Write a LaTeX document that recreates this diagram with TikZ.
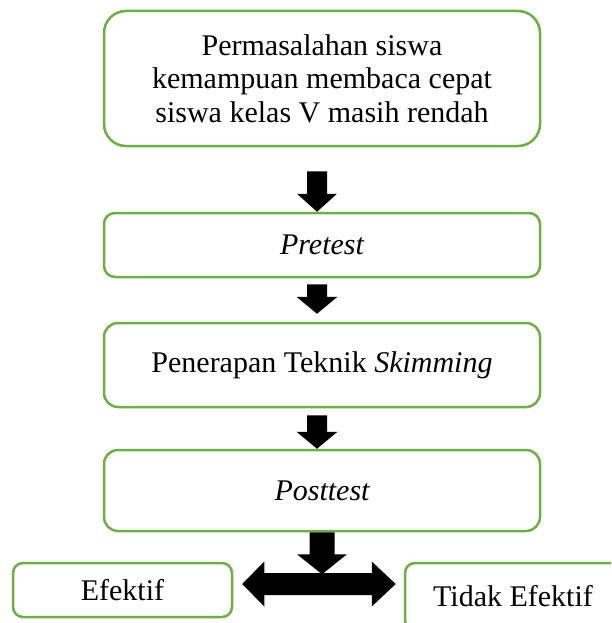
\documentclass[tikz,border=0pt]{standalone}
\usepackage{fontspec}
\setmainfont{Liberation Serif}
\usetikzlibrary{calc}
\definecolor{boxgreen}{RGB}{112,173,71}
\tikzset{
  box/.style={draw=boxgreen, line width=2.5pt, rounded corners=#1, fill=white,
    inner sep=0pt, align=center, font=\fontsize{30}{33.5}\selectfont},
  box/.default=12pt,
  blk/.style={fill=black, draw=none}
}
\newcommand\blkdown[5]{% #1 top, #2 tip, #3 head length, #4 shaft half, #5 head half
  \fill[blk] ($#1+(-#4,0)$) -- ($#1+(#4,0)$) -- ($#2+(#4,-#3)$) -- ($#2+(#5,-#3)$)
    -- #2 -- ($#2+(-#5,-#3)$) -- ($#2+(-#4,-#3)$) -- cycle;}
\begin{document}
\begin{tikzpicture}[x=1pt, y=-1pt]
\clip (0,0) rectangle (611,623);
\fill[white] (0,0) rectangle (611,623);
\node[box=22pt, minimum width=436pt, minimum height=135pt] (b1) at (322,78.5)
  {Permasalahan siswa\\kemampuan membaca cepat\\siswa kelas V masih rendah};
\node[box=11pt, minimum width=436pt, minimum height=64pt] (b2) at (322,245) {\itshape Pretest};
\node[box=14pt, minimum width=436pt, minimum height=84pt] (b3) at (322,365) {Penerapan Teknik \textit{Skimming}};
\node[box=14pt, minimum width=436pt, minimum height=81pt] (b4) at (322,490.5) {\itshape Posttest};
\node[box=10pt, minimum width=219pt, minimum height=54pt] (e1) at (122.5,590) {Efektif};
\node[box=10pt, minimum width=216pt, minimum height=67pt] (e2) at (513,596.5) {Tidak Efektif};
% block arrows
\blkdown{($(b1.south)+(-5,24)$)}{($(b2.north)+(-5,0)$)}{18}{10}{20}
\blkdown{($(b2.south)+(-5,6)$)}{($(b3.north)+(-5,-8)$)}{17}{10}{20.5}
\blkdown{($(b3.south)+(-5,7)$)}{($(b4.north)+(-5,0)$)}{17}{10}{20.5}
\coordinate (fork) at ($(b4.south)+(0,42)$);
\blkdown{(b4.south)}{(fork)}{20}{12.5}{25}
\coordinate (lt) at ($(e1.east)+(9,-6)$);
\coordinate (rt) at ($(e2.west)+(-8,-12.5)$);
\fill[blk] (lt) -- ($(lt)+(22,-22.5)$) -- ($(lt)+(22,-11)$) -- ($(rt)+(-24,-11)$)
  -- ($(rt)+(-24,-22.5)$) -- (rt) -- ($(rt)+(-24,22.5)$) -- ($(rt)+(-24,11)$)
  -- ($(lt)+(22,11)$) -- ($(lt)+(22,22.5)$) -- cycle;
\end{tikzpicture}
\end{document}
